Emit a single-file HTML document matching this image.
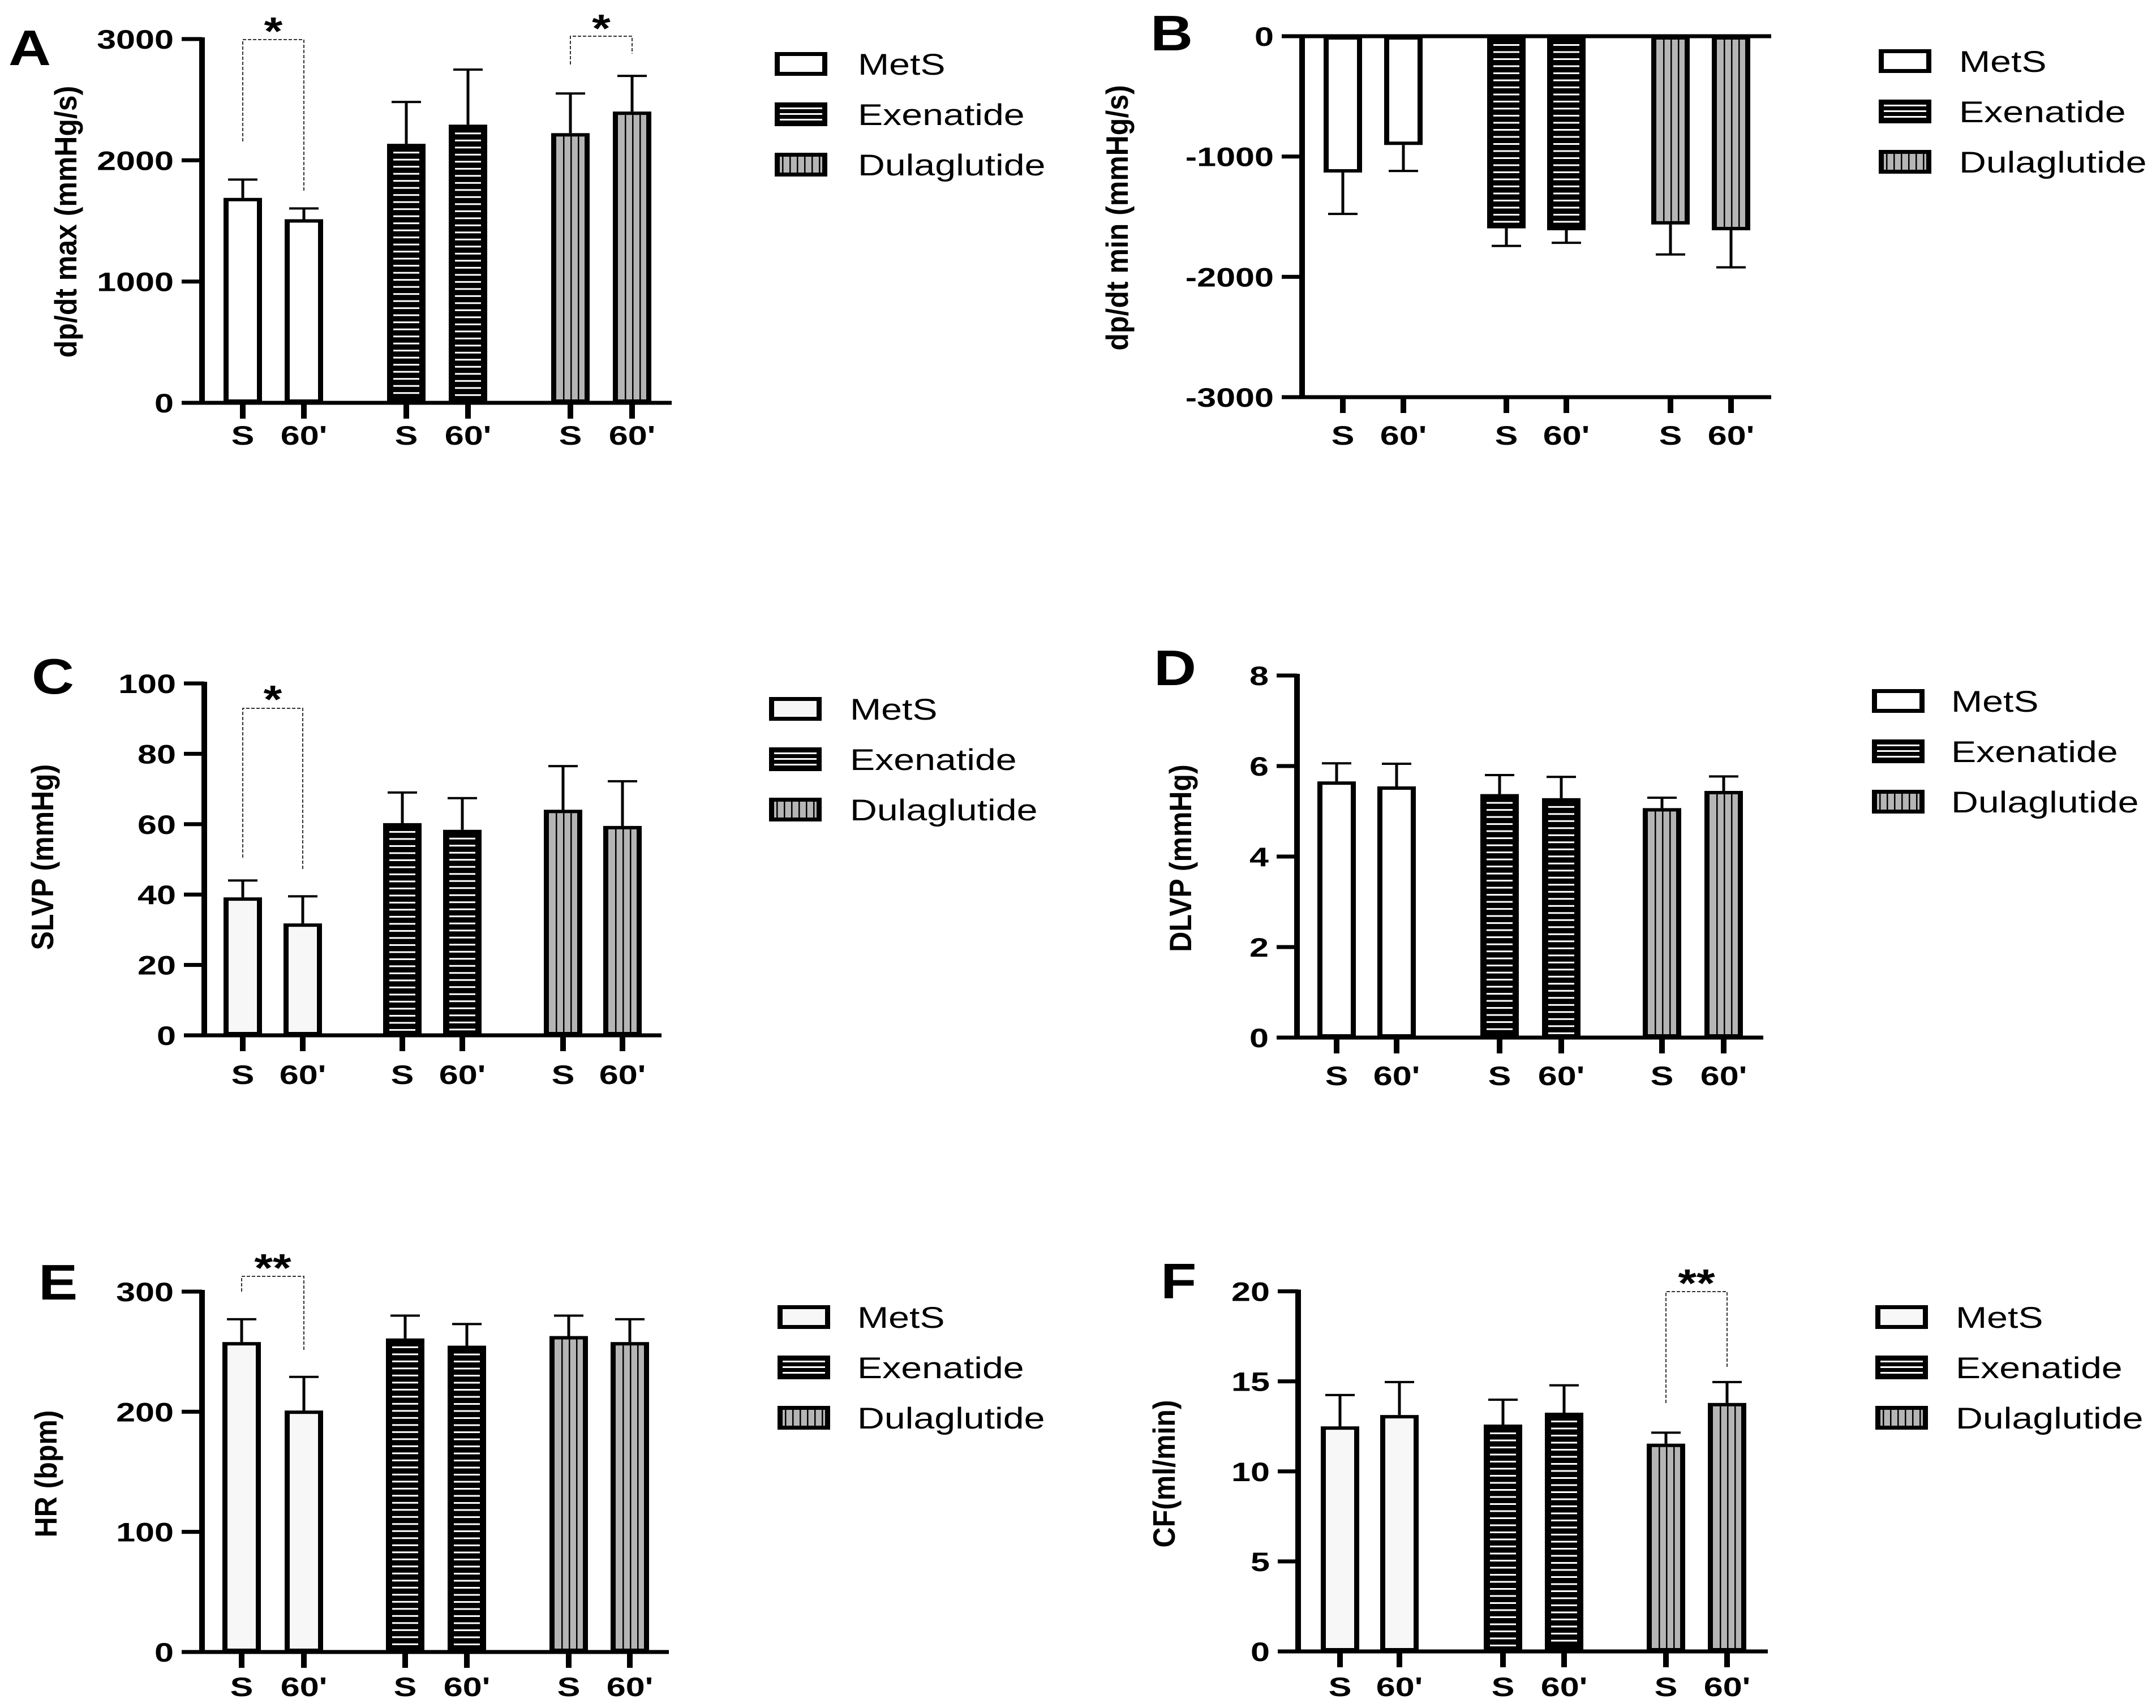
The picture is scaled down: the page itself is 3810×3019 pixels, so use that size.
<!DOCTYPE html>
<html><head><meta charset="utf-8"><style>html,body{margin:0;padding:0;background:#fff}svg{display:block}</style></head>
<body>
<svg id="fig" xmlns="http://www.w3.org/2000/svg" width="3810" height="3019" viewBox="0 0 3810 3019"><rect width="3810" height="3019" fill="#fff"/></svg>
<script>
const groups = ["MetS","Exenatide","Dulaglutide"];
const xLabels = ["S","60'","S","60'","S","60'"];
const aMeans = [1690,1514,2136,2294,2224,2402];
const aErrs  = [1841,1603,2481,2748,2551,2696];
const bMeans = [-1133,-904,-1597,-1613,-1565,-1613];
const bErrs  = [-1477,-1120,-1743,-1717,-1814,-1921];
const cMeans = [39.2,31.8,60.3,58.4,64.1,59.5];
const cErrs  = [44,39.5,69,67.4,76.5,72.2];
const dMeans = [5.66,5.55,5.38,5.29,5.07,5.45];
const dErrs  = [6.06,6.05,5.8,5.76,5.3,5.77];
const eMeans = [258,201,261,255,263,258];
const eErrs  = [277,229,280,273,280,277];
const fMeans = [12.5,13.13,12.6,13.26,11.54,13.8];
const fErrs  = [14.24,14.96,13.98,14.78,12.15,14.96];
const aTicks = [0,1000,2000,3000];
const bTicks = [-3000,-2000,-1000,0];
const cTicks = [0,20,40,60,80,100];
const dTicks = [0,2,4,6,8];
const eTicks = [0,100,200,300];
const fTicks = [0,5,10,15,20];

const NS="http://www.w3.org/2000/svg";
const svg=document.getElementById('fig');
function el(tag,attrs,parent){const e=document.createElementNS(NS,tag);for(const k in attrs)e.setAttribute(k,attrs[k]);(parent||svg).appendChild(e);return e;}
function txt(parent,s,x,y,size,weight,anchor,sx,rot){
  const t=el('text',{x:0,y:0,'font-family':'"Liberation Sans", Arial, sans-serif','font-size':size,'font-weight':weight,'text-anchor':anchor,fill:'#000',
    transform:`translate(${x},${y}) scale(${sx},1)`+(rot?` rotate(${rot})`:'')},parent);
  t.textContent=s;return t;
}

function drawBar(g,kind,lightMets,x,yTop,yBase,w){
  const top=Math.min(yTop,yBase), bot=Math.max(yTop,yBase), h=bot-top;
  el('rect',{x:x-w/2,y:top,width:w,height:h,fill:'#000'},g);
  const ix=x-w/2+9, iw=w-18, iy=top+6, ih=Math.max(0,h-12);
  if(kind===0){el('rect',{x:ix,y:iy,width:iw,height:ih,fill:lightMets?'#f7f7f7':'#fff'},g);}
  else if(kind===1){
    for(let yy=iy+8;yy<iy+ih-2;yy+=12.5){el('rect',{x:ix+2,y:yy,width:iw-4,height:3,fill:'#fff'},g);}
  } else {
    el('rect',{x:ix,y:iy,width:iw,height:ih,fill:'#b5b5b5'},g);
    for(let xx=ix+12;xx<ix+iw-3;xx+=13){el('rect',{x:xx,y:iy,width:2.5,height:ih,fill:'#000'},g);}
  }
}

function panel(p){
  const g=el('g',{});
  
  
  const sc=v=>p.yMin+(v-p.vMin)/(p.vMax-p.vMin)*(p.yMax-p.yMin);
  const L=txt(g,p.id,p.letter[0],p.letter[1],88,'bold','start',1.18);
  
  
  const T=txt(g,p.title,p.titlePos[0]+13,p.titlePos[1],50,'bold','middle',1.1,-90);
  
  
  const yA=sc(p.ticks[0]), yB=sc(p.ticks[p.ticks.length-1]);
  const ax=el('rect',{x:p.ax-5,y:Math.min(yA,yB)-3,width:10,height:Math.abs(yA-yB)+6,fill:'#000'},g);
  
  
  const xAxisY=sc(p.baseVal);
  const xa=el('rect',{x:p.ax-5,y:xAxisY-3.5,width:p.right-p.ax+5,height:7,fill:'#000'},g);
  
  
  if(p.id==='B'){
    const bl=el('rect',{x:p.ax-5,y:sc(p.vMin)-3.5,width:p.right-p.ax+5,height:7,fill:'#000'},g);
    
    
  }
  p.ticks.forEach(v=>{
    const y=sc(v);
    el('rect',{x:p.ax-36,y:y-3.5,width:36,height:7,fill:'#000'},g);
    const t=txt(g,String(v),p.ax-50,y+17,47,'bold','end',1.3);
    
    
  });
  const tickBase = p.id==='B'? sc(p.vMin): xAxisY;
  p.means.forEach((m,i)=>{
    const x=p.xs[i], kind=Math.floor(i/2);
    const bg=el('g',{},g);
    
    
    const yv=sc(m), ye=sc(p.errs[i]);
    el('rect',{x:x-2.5,y:Math.min(yv,ye),width:5,height:Math.abs(ye-yv),fill:'#000'},bg);
    el('rect',{x:x-26,y:ye-2,width:52,height:4,fill:'#000'},bg);
    drawBar(bg,kind,p.lightMets,x,yv,sc(p.baseVal),68);
    el('rect',{x:x-5,y:tickBase,width:10,height:28,fill:'#000'},g);
    const xl=txt(g,xLabels[i],x,p.xlabY+17,47,'bold','middle',1.3);
    
    
  });
  (p.brackets||[]).forEach(b=>{
    const x1=p.xs[b.i], x2=p.xs[b.j];
    const pth=el('path',{d:`M${x1},${b.li} L${x1},${b.top} L${x2},${b.top} L${x2},${b.ri}`,fill:'none',stroke:'#333','stroke-width':2,'stroke-dasharray':'6,3'},g);
    
    
    const st=txt(g,b.star,(x1+x2)/2,b.sy+14,70,'bold','middle',1.2);
    
    
  });
  groups.forEach((name,k)=>{
    const lg=el('g',{},g);
    
    
    const y=p.legend[1]+k*89;
    const w=93,h=42,x=p.legend[0];
    el('rect',{x:x,y:y,width:w,height:h,fill:'#000'},lg);
    if(k===0) el('rect',{x:x+9,y:y+7,width:w-18,height:h-14,fill:p.lightMets?'#f7f7f7':'#fff'},lg);
    else if(k===1){ for(let j=0;j<3;j++) el('rect',{x:x+9,y:y+9+j*10,width:w-18,height:3,fill:'#fff'},lg); }
    else { el('rect',{x:x+9,y:y+7,width:w-18,height:h-14,fill:'#b5b5b5'},lg); for(let xx=x+13;xx<x+w-10;xx+=13) el('rect',{x:xx,y:y+7,width:2.5,height:h-14,fill:'#000'},lg); }
    txt(lg,name,p.legend[2],y+h/2+19,53,'normal','start',1.25);
  });
}

panel({id:'A',title:'dp/dt max (mmHg/s)',ax:357,vMin:0,vMax:3000,yMin:712,yMax:69,baseVal:0,right:1187,ticks:aTicks,
  xs:[429,537,718,827,1008,1117],xlabY:769,legend:[1369,92,1516],letter:[15,115],titlePos:[122,392],means:aMeans,errs:aErrs,lightMets:false,
  brackets:[{i:0,j:1,top:70,li:250,ri:339,star:'*',sy:65},{i:4,j:5,top:64,li:114,ri:95,star:'*',sy:60}]});
panel({id:'B',title:'dp/dt min (mmHg/s)',ax:2301,vMin:-3000,vMax:0,yMin:702,yMax:64,baseVal:0,right:3130,ticks:bTicks,
  xs:[2373,2480,2662,2768,2952,3059],xlabY:769,legend:[3320,87,3462],letter:[2033,89],titlePos:[1980,385],means:bMeans,errs:bErrs,lightMets:false});
panel({id:'C',title:'SLVP (mmHg)',ax:361,vMin:0,vMax:100,yMin:1830,yMax:1208,baseVal:0,right:1169,ticks:cTicks,
  xs:[429,535,711,817,995,1100],xlabY:1899,legend:[1359,1232,1502],letter:[56,1226],titlePos:[81,1515],means:cMeans,errs:cErrs,lightMets:true,
  brackets:[{i:0,j:1,top:1252,li:1516,ri:1538,star:'*',sy:1246}]});
panel({id:'D',title:'DLVP (mmHg)',ax:2292,vMin:0,vMax:8,yMin:1834,yMax:1194,baseVal:0,right:3116,ticks:dTicks,
  xs:[2362,2468,2650,2759,2937,3046],xlabY:1901,legend:[3308,1218,3448],letter:[2039,1211],titlePos:[2092,1517],means:dMeans,errs:dErrs,lightMets:false});
panel({id:'E',title:'HR (bpm)',ax:357,vMin:0,vMax:300,yMin:2920,yMax:2283,baseVal:0,right:1182,ticks:eTicks,
  xs:[427,537,716,825,1005,1113],xlabY:2981,legend:[1374,2307,1515],letter:[68,2297],titlePos:[87,2605],means:eMeans,errs:eErrs,lightMets:true,
  brackets:[{i:0,j:1,top:2256,li:2283,ri:2388,star:'**',sy:2251}]});
panel({id:'F',title:'CF(ml/min)',ax:2294,vMin:0,vMax:20,yMin:2919,yMax:2282.5,baseVal:0,right:3124,ticks:fTicks,
  xs:[2368,2473,2656,2764,2944,3052],xlabY:2981,legend:[3314,2307,3456],letter:[2051,2295],titlePos:[2063,2605],means:fMeans,errs:fErrs,lightMets:true,
  brackets:[{i:4,j:5,top:2283,li:2480,ri:2416,star:'**',sy:2278}]});
</script>
</body></html>
